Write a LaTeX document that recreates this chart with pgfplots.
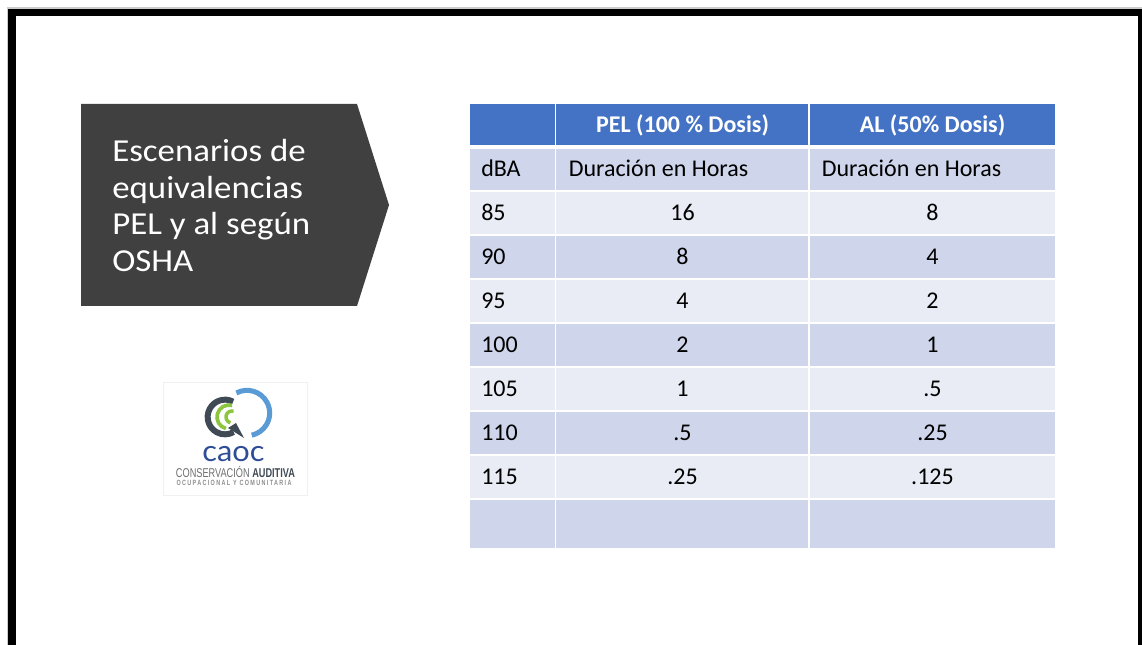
\documentclass[border=0pt]{standalone}
\usepackage{pgfplots}
\pgfplotsset{compat=1.18}
\usepackage{pgfplotstable}
\usepackage{fontspec}
\setmainfont{Carlito}
\newfontfamily\titlefont[FakeStretch=1.09]{Carlito}
\newfontfamily\logofont[FakeStretch=0.72]{Liberation Sans}
\newfontfamily\caocfont[FakeStretch=1.05]{Lato}
\definecolor{hdr}{HTML}{4472C4}
\definecolor{rowdark}{HTML}{CFD5EA}
\definecolor{rowlight}{HTML}{E9EBF5}
\definecolor{boxgray}{HTML}{404040}
\definecolor{logodark}{HTML}{3F4A55}
\definecolor{logogreen}{HTML}{8CC63F}
\definecolor{logoblue}{HTML}{5B9BD5}
\definecolor{logonavy}{HTML}{2F4C96}
\definecolor{logogray}{HTML}{6D6E71}
\definecolor{logogray2}{HTML}{8C8C8C}
\newcommand\tablefont{\fontsize{18}{21}\selectfont}

\pgfplotstableread{
base dBA PEL AL
220.5 85 16 8
264.5 90 8 4
308.5 95 4 2
352.5 100 2 1
396.5 105 1 .5
440.5 110 .5 .25
484.5 115 .25 .125
}\datatable

\begin{document}
\begin{tikzpicture}
\begin{axis}[x=0.75pt, y=0.75pt, xmin=0, xmax=1142, ymin=0, ymax=645,
  y dir=reverse, hide axis, clip=false]
\path (axis cs:0,0) rectangle (axis cs:1142,645);
% slide border
\fill[gray!40] (axis cs:6.7,7.3) rectangle (axis cs:1142,9);
\fill[gray!40] (axis cs:6.7,7.3) rectangle (axis cs:8,645);
\fill[black] (axis cs:8,9) rectangle (axis cs:1142,16);
\fill[black] (axis cs:8,9) rectangle (axis cs:16,645);
\fill[black] (axis cs:1138,9) rectangle (axis cs:1142,645);
% title box
\fill[boxgray] (axis cs:81,104) -- (axis cs:357,104) -- (axis cs:389,205)
  -- (axis cs:357,306) -- (axis cs:81,306) -- cycle;
\node[anchor=base west, inner sep=0pt, text=white, font=\titlefont\fontsize{24}{28}\selectfont] at (axis cs:112,162) {Escenarios de};
\node[anchor=base west, inner sep=0pt, text=white, font=\titlefont\fontsize{24}{28}\selectfont] at (axis cs:112,198.5) {equivalencias};
\node[anchor=base west, inner sep=0pt, text=white, font=\titlefont\fontsize{24}{28}\selectfont] at (axis cs:112,235) {PEL y al según};
\node[anchor=base west, inner sep=0pt, text=white, font=\titlefont\fontsize{24}{28}\selectfont] at (axis cs:112,271.5) {OSHA};
% logo
\draw[black!6, line width=0.75pt] (axis cs:163.5,382) rectangle (axis cs:307.5,495.5);
\draw[logoblue, line width=3.8pt] ([shift={(118:17pt)}]axis cs:247,413) arc[start angle=118, end angle=-78, radius=17pt];
\draw[logodark, line width=4.5pt] ([shift={(62:13pt)}]axis cs:225,417) arc[start angle=62, end angle=300, radius=13pt];
\fill[logodark] (axis cs:228,428) -- (axis cs:244,438) -- (axis cs:236,423) -- cycle;
\draw[logogreen, line width=2.8pt] ([shift={(75:9pt)}]axis cs:229,417) arc[start angle=75, end angle=255, radius=9pt];
\draw[logogreen, line width=2.6pt] ([shift={(75:4.5pt)}]axis cs:232,417) arc[start angle=75, end angle=255, radius=4.5pt];
\node[anchor=base, inner sep=0pt, text=logonavy, font=\caocfont\fontsize{22}{24}\selectfont] at (axis cs:233.5,461.5) {caoc};
\node[anchor=base, inner sep=0pt] at (axis cs:235.5,477) {\resizebox{89.25pt}{!}{\logofont\color{logogray}CONSERVACIÓN \bfseries\color{logodark}AUDITIVA}};
\node[anchor=base, inner sep=0pt] at (axis cs:234,485.5) {\resizebox{86.25pt}{!}{\logofont\bfseries\addfontfeature{LetterSpace=18}\color{logogray2}OCUPACIONAL Y COMUNITARIA}};
% table backgrounds
\fill[hdr] (axis cs:470,104) rectangle (axis cs:1055,147);
\fill[rowdark] (axis cs:470,147) rectangle (axis cs:1055,191);
\fill[rowlight] (axis cs:470,191) rectangle (axis cs:1055,235);
\fill[rowdark] (axis cs:470,235) rectangle (axis cs:1055,279);
\fill[rowlight] (axis cs:470,279) rectangle (axis cs:1055,323);
\fill[rowdark] (axis cs:470,323) rectangle (axis cs:1055,367);
\fill[rowlight] (axis cs:470,367) rectangle (axis cs:1055,411);
\fill[rowdark] (axis cs:470,411) rectangle (axis cs:1055,455);
\fill[rowlight] (axis cs:470,455) rectangle (axis cs:1055,499);
\fill[rowdark] (axis cs:470,499) rectangle (axis cs:1055,548);
\draw[white, line width=2.8pt] (axis cs:470,147.2) -- (axis cs:1055,147.2);
\draw[white, line width=1.1pt] (axis cs:470,191) -- (axis cs:1055,191);
\draw[white, line width=1.1pt] (axis cs:470,235) -- (axis cs:1055,235);
\draw[white, line width=1.1pt] (axis cs:470,279) -- (axis cs:1055,279);
\draw[white, line width=1.1pt] (axis cs:470,323) -- (axis cs:1055,323);
\draw[white, line width=1.1pt] (axis cs:470,367) -- (axis cs:1055,367);
\draw[white, line width=1.1pt] (axis cs:470,411) -- (axis cs:1055,411);
\draw[white, line width=1.1pt] (axis cs:470,455) -- (axis cs:1055,455);
\draw[white, line width=1.1pt] (axis cs:470,499) -- (axis cs:1055,499);
\draw[white, line width=1.4pt] (axis cs:555.5,104) -- (axis cs:555.5,548);
\draw[white, line width=1.4pt] (axis cs:809.3,104) -- (axis cs:809.3,548);
% header texts
\node[anchor=base, inner sep=0pt, text=white, font=\tablefont\bfseries] at (axis cs:682.5,132.3) {PEL (100 \% Dosis)};
\node[anchor=base, inner sep=0pt, text=white, font=\tablefont\bfseries] at (axis cs:932.5,132.3) {AL (50\% Dosis)};
\node[anchor=base west, inner sep=0pt, font=\tablefont] at (axis cs:481,176.5) {dBA};
\node[anchor=base west, inner sep=0pt, font=\tablefont] at (axis cs:568.5,176.5) {Duración en Horas};
\node[anchor=base west, inner sep=0pt, font=\tablefont] at (axis cs:821.5,176.5) {Duración en Horas};
% data values
\addplot[draw=none, nodes near coords, point meta=explicit symbolic,
  every node near coord/.append style={anchor=base west, inner sep=0pt, font=\tablefont, text=black}]
  table[x expr=481, y=base, meta=dBA] {\datatable};
\addplot[draw=none, nodes near coords, point meta=explicit symbolic,
  every node near coord/.append style={anchor=base, inner sep=0pt, font=\tablefont, text=black}]
  table[x expr=682.5, y=base, meta=PEL] {\datatable};
\addplot[draw=none, nodes near coords, point meta=explicit symbolic,
  every node near coord/.append style={anchor=base, inner sep=0pt, font=\tablefont, text=black}]
  table[x expr=932.5, y=base, meta=AL] {\datatable};
\end{axis}
\end{tikzpicture}
\end{document}
